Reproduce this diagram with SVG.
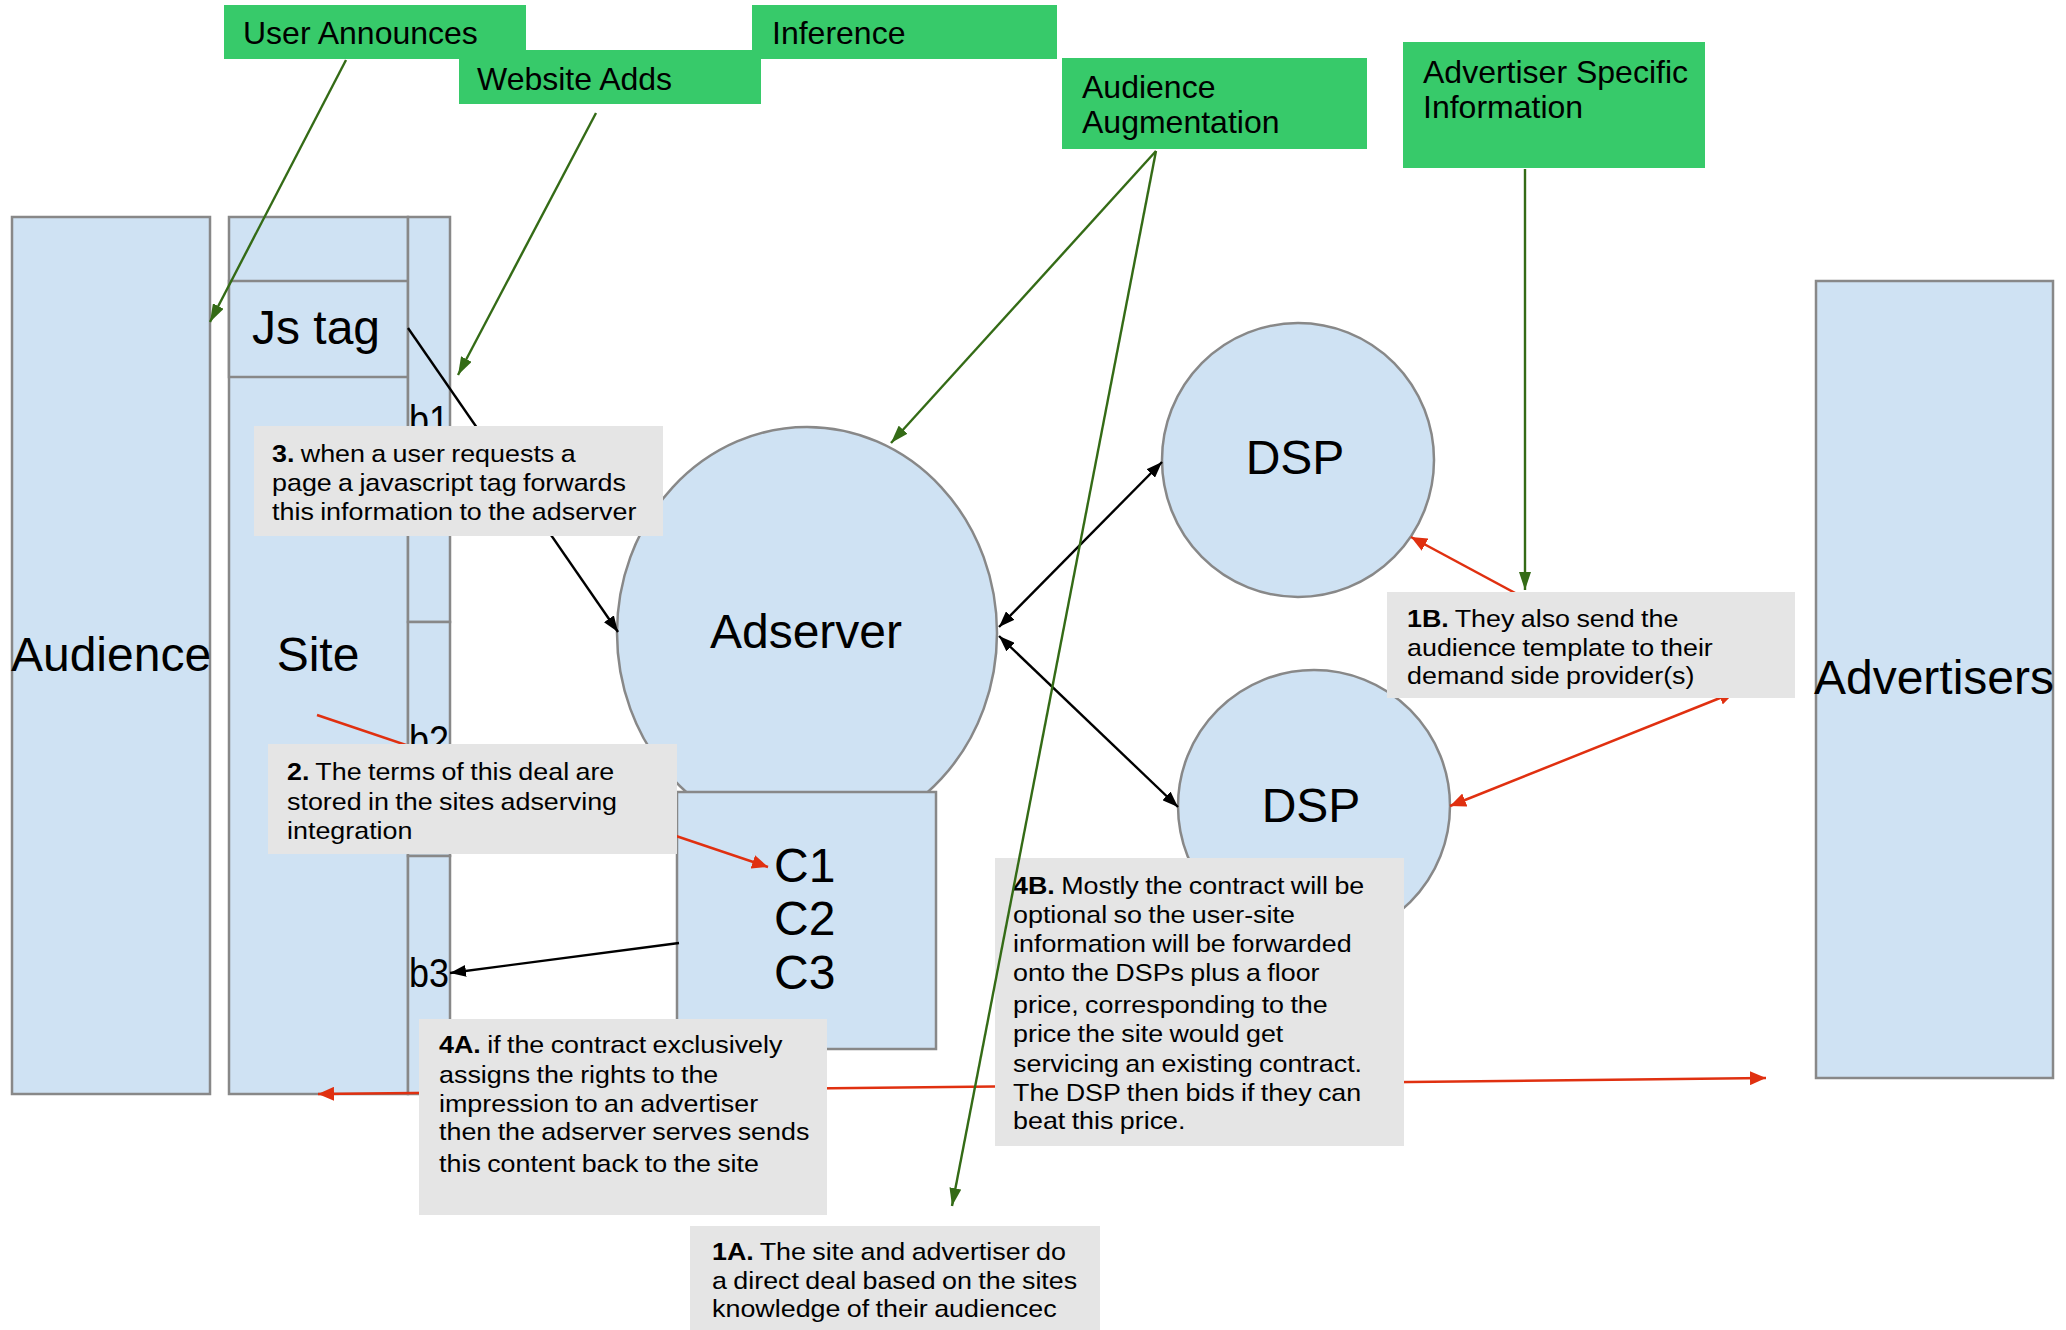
<svg xmlns="http://www.w3.org/2000/svg" width="2066" height="1330" viewBox="0 0 2066 1330">
  <style>
    .shape { fill: #cfe2f3; stroke: #888888; stroke-width: 2.5; }
    .tag { fill: #37ca6a; }
    .note { fill: #e5e5e5; }
    .big { font-family: "Liberation Sans", Arial, sans-serif; font-size: 48px; fill: #000; }
    .bl { font-family: "Liberation Sans", Arial, sans-serif; font-size: 40px; fill: #000; }
    .tagt { font-family: "Liberation Sans", Arial, sans-serif; font-size: 32px; fill: #000; }
    .nt { font-family: "Liberation Sans", Arial, sans-serif; font-size: 24px; fill: #000; word-spacing: -1px; }
    .b { font-weight: bold; }
    .ln { fill: none; stroke-width: 2.4; }
    .k { stroke: #000; marker-end: url(#ak); }
    .kk { stroke: #000; marker-start: url(#ak); marker-end: url(#ak); }
    .r { stroke: #e03010; stroke-width: 2.5; marker-end: url(#ar); }
    .rr { stroke: #e03010; stroke-width: 2.5; marker-start: url(#ar); marker-end: url(#ar); }
    .g { stroke: #346b16; marker-end: url(#ag); }
  </style>
  <defs>
    <marker id="ak" markerUnits="userSpaceOnUse" markerWidth="16" markerHeight="12" refX="16" refY="6" orient="auto-start-reverse">
      <path d="M0,0 L16,6 L0,12 z" fill="#000"/>
    </marker>
    <marker id="ar" markerUnits="userSpaceOnUse" markerWidth="16" markerHeight="14" refX="16" refY="7" orient="auto-start-reverse">
      <path d="M0,0 L16,7 L0,14 z" fill="#e03010"/>
    </marker>
    <marker id="ag" markerUnits="userSpaceOnUse" markerWidth="18" markerHeight="12" refX="18" refY="6" orient="auto-start-reverse">
      <path d="M0,0 L18,6 L0,12 z" fill="#346b16"/>
    </marker>
  </defs>

  <!-- audience column -->
  <g id="audience">
    <rect class="shape" x="12" y="217" width="198" height="877"/>
    <text class="big" x="111" y="671" text-anchor="middle">Audience</text>
  </g>

  <!-- site column with Js tag cell and b1..b3 slots -->
  <g id="site">
    <rect class="shape" x="229" y="217" width="179" height="877"/>
    <text class="big" x="318" y="671" text-anchor="middle">Site</text>
  </g>
  <g id="js-tag">
    <rect class="shape" x="229" y="281" width="179" height="96"/>
    <text class="big" x="316" y="344" text-anchor="middle">Js tag</text>
  </g>
  <g id="b1">
    <rect class="shape" x="408" y="217" width="42" height="405"/>
    <text class="bl" x="409" y="434" textLength="40" lengthAdjust="spacingAndGlyphs">b1</text>
  </g>
  <g id="b2">
    <rect class="shape" x="408" y="622" width="42" height="234"/>
    <text class="bl" x="409" y="754" textLength="40" lengthAdjust="spacingAndGlyphs">b2</text>
  </g>
  <g id="b3">
    <rect class="shape" x="408" y="856" width="42" height="238"/>
    <text class="bl" x="409" y="987" textLength="40" lengthAdjust="spacingAndGlyphs">b3</text>
  </g>

  <!-- adserver with its contract store -->
  <g id="adserver">
    <ellipse class="shape" cx="807" cy="633" rx="190" ry="206"/>
    <text class="big" x="806" y="648" text-anchor="middle">Adserver</text>
  </g>
  <g id="contracts">
    <rect class="shape" x="677" y="792" width="259" height="257"/>
    <text class="big" x="774" y="882">C1</text>
    <text class="big" x="774" y="935">C2</text>
    <text class="big" x="774" y="989">C3</text>
  </g>

  <g id="dsp-1">
    <ellipse class="shape" cx="1298" cy="460" rx="136" ry="137"/>
    <text class="big" x="1295" y="474" text-anchor="middle">DSP</text>
  </g>
  <g id="dsp-2">
    <ellipse class="shape" cx="1314" cy="806" rx="136" ry="136"/>
    <text class="big" x="1311" y="822" text-anchor="middle">DSP</text>
  </g>

  <g id="advertisers">
    <rect class="shape" x="1816" y="281" width="237" height="797"/>
    <text class="big" x="1934" y="694" text-anchor="middle">Advertisers</text>
  </g>

  <!-- data source labels -->
  <g id="user-announces">
    <rect class="tag" x="224" y="5" width="302" height="54"/>
    <text class="tagt" x="243" y="44">User Announces</text>
  </g>
  <g id="website-adds">
    <rect class="tag" x="459" y="50" width="302" height="54"/>
    <text class="tagt" x="477" y="90">Website Adds</text>
  </g>
  <g id="inference">
    <rect class="tag" x="752" y="5" width="305" height="54"/>
    <text class="tagt" x="772" y="44">Inference</text>
  </g>
  <g id="audience-augmentation">
    <rect class="tag" x="1062" y="58" width="305" height="91"/>
    <text class="tagt" x="1082" y="98">Audience</text>
    <text class="tagt" x="1082" y="133">Augmentation</text>
  </g>
  <g id="advertiser-specific">
    <rect class="tag" x="1403" y="42" width="302" height="126"/>
    <text class="tagt" x="1423" y="83">Advertiser Specific</text>
    <text class="tagt" x="1423" y="118">Information</text>
  </g>

  <!-- request / response flows -->
  <g id="connectors">
    <line class="ln k" x1="408" y1="328" x2="618" y2="632"/>
    <line class="ln kk" x1="999" y1="627" x2="1162" y2="462"/>
    <line class="ln kk" x1="999" y1="636" x2="1178" y2="807"/>
    <line class="ln k" x1="679" y1="943" x2="450" y2="973"/>
    <line class="ln r" x1="317" y1="715" x2="768" y2="867"/>
    <line class="ln rr" x1="318" y1="1094" x2="1766" y2="1078"/>
    <line class="ln r" x1="1530" y1="601" x2="1411" y2="537"/>
    <line class="ln rr" x1="1735" y1="692" x2="1450" y2="806"/>
  </g>

  <!-- numbered notes -->
  <g id="note-3">
    <rect class="note" x="254" y="426" width="409" height="110"/>
    <text class="nt" transform="translate(272 0) scale(1.12 1)">
      <tspan x="0" y="462"><tspan class="b">3.</tspan> when a user requests a</tspan>
      <tspan x="0" y="491">page a javascript tag forwards</tspan>
      <tspan x="0" y="520">this information to the adserver</tspan>
    </text>
  </g>
  <g id="note-2">
    <rect class="note" x="268" y="744" width="409" height="110"/>
    <text class="nt" transform="translate(287 0) scale(1.12 1)">
      <tspan x="0" y="780"><tspan class="b">2.</tspan> The terms of this deal are</tspan>
      <tspan x="0" y="810">stored in the sites adserving</tspan>
      <tspan x="0" y="839">integration</tspan>
    </text>
  </g>
  <g id="note-4a">
    <rect class="note" x="419" y="1019" width="408" height="196"/>
    <text class="nt" transform="translate(439 0) scale(1.12 1)">
      <tspan x="0" y="1053"><tspan class="b">4A.</tspan> if the contract exclusively</tspan>
      <tspan x="0" y="1083">assigns the rights to the</tspan>
      <tspan x="0" y="1112">impression to an advertiser</tspan>
      <tspan x="0" y="1140">then the adserver serves sends</tspan>
      <tspan x="0" y="1172">this content back to the site</tspan>
    </text>
  </g>
  <g id="note-4b">
    <rect class="note" x="995" y="858" width="409" height="288"/>
    <text class="nt" transform="translate(1013 0) scale(1.12 1)">
      <tspan x="0" y="894"><tspan class="b">4B.</tspan> Mostly the contract will be</tspan>
      <tspan x="0" y="923">optional so the user-site</tspan>
      <tspan x="0" y="952">information will be forwarded</tspan>
      <tspan x="0" y="981">onto the DSPs plus a floor</tspan>
      <tspan x="0" y="1013">price, corresponding to the</tspan>
      <tspan x="0" y="1042">price the site would get</tspan>
      <tspan x="0" y="1072">servicing an existing contract.</tspan>
      <tspan x="0" y="1101">The DSP then bids if they can</tspan>
      <tspan x="0" y="1129">beat this price.</tspan>
    </text>
  </g>
  <g id="note-1b">
    <rect class="note" x="1387" y="592" width="408" height="106"/>
    <text class="nt" transform="translate(1407 0) scale(1.12 1)">
      <tspan x="0" y="627"><tspan class="b">1B.</tspan> They also send the</tspan>
      <tspan x="0" y="656">audience template to their</tspan>
      <tspan x="0" y="684">demand side provider(s)</tspan>
    </text>
  </g>
  <g id="note-1a">
    <rect class="note" x="690" y="1226" width="410" height="110"/>
    <text class="nt" transform="translate(712 0) scale(1.12 1)">
      <tspan x="0" y="1260"><tspan class="b">1A.</tspan> The site and advertiser do</tspan>
      <tspan x="0" y="1289">a direct deal based on the sites</tspan>
      <tspan x="0" y="1317">knowledge of their audiencec</tspan>
    </text>
  </g>

  <!-- where each piece of information comes from -->
  <g id="source-connectors">
    <line class="ln g" x1="346" y1="60" x2="210" y2="322"/>
    <line class="ln g" x1="596" y1="113" x2="458" y2="375"/>
    <line class="ln g" x1="1156" y1="151" x2="891" y2="443"/>
    <line class="ln g" x1="1156" y1="151" x2="952" y2="1206"/>
    <line class="ln g" x1="1525" y1="169" x2="1525" y2="590"/>
  </g>
</svg>
